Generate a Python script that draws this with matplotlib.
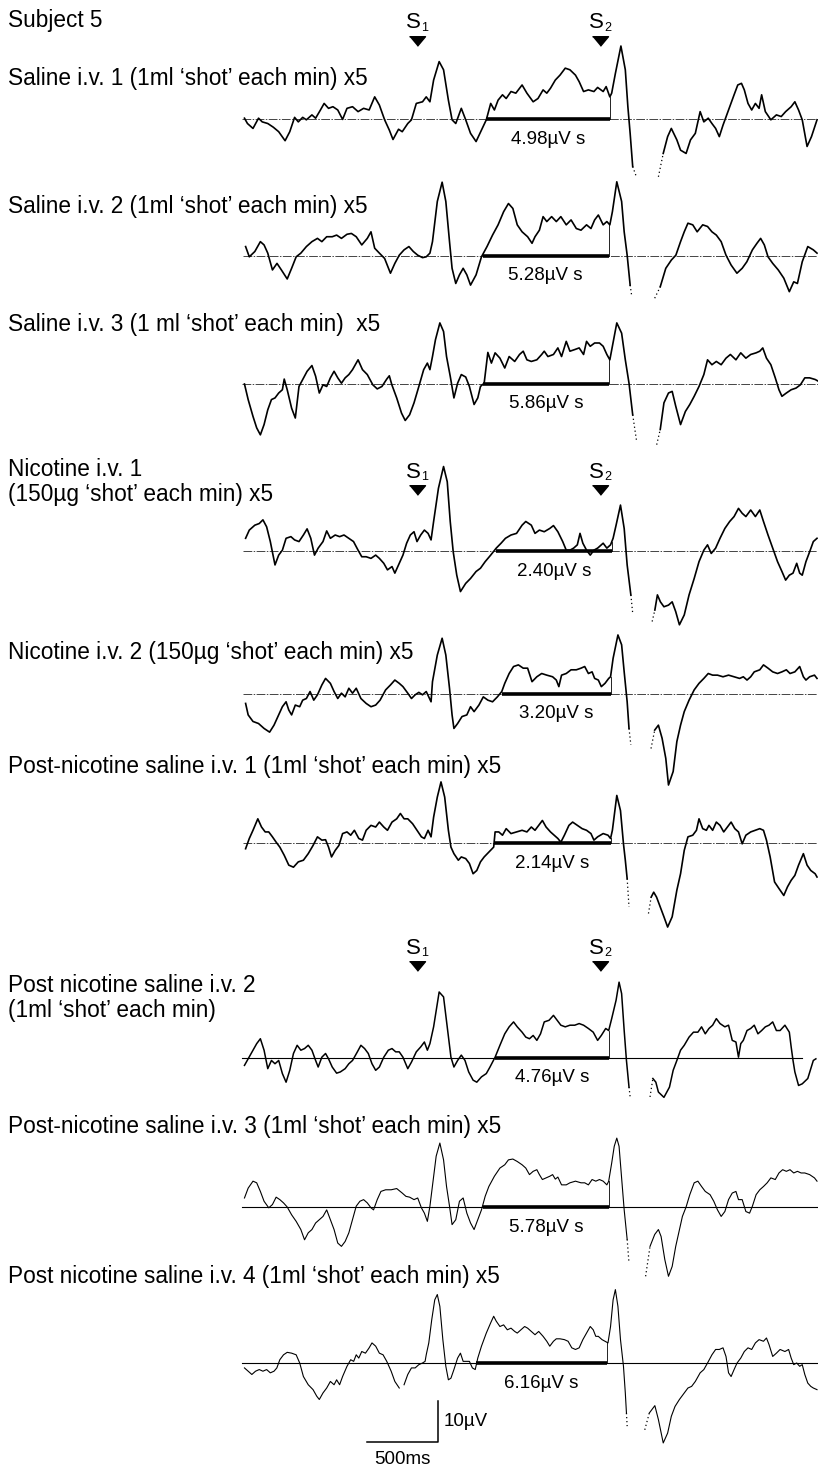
import numpy as np
import matplotlib
matplotlib.use("Agg")
import matplotlib.pyplot as plt
from matplotlib import font_manager

nan = np.nan

# ---------------- data (time in ms from S1, amplitude in uV, up = positive) -------------
T1 = [(-1215,0.2),(-1194,-1.1),(-1155,-2.3),(-1116,0.2),(-1090,-0.7),(-1051,-1.1),(-1012,-2.0),(-974,-3.1),(-929,-5.3),(-896,-3.1),(-862,0.4),(-836,-0.7),(-805,0.4),(-779,-0.2),(-740,1.0),(-714,0.2),(-680,2.2),(-654,3.8),(-623,2.6),(-592,3.0),(-558,2.2),(-524,-0.1),(-493,2.6),(-454,3.0),(-415,1.8),(-376,2.6),(-337,2.2),(-298,5.4),(-265,3.4),(-228,-0.2),(-195,-2.7),(-169,-5.0),(-130,-2.5),(-104,-3.1),(-65,-1.1),(-39,-0.2),(-5,3.8),(39,4.2),(65,5.4),(91,4.2),(117,9.5),(156,14.0),(187,12.0),(221,4.6),(247,-0.2),(273,-1.1),(312,2.6),(343,-0.2),(377,-3.5),(416,-5.5),(454,-2.7),(488,-0.2),(519,3.8),(545,2.2),(571,4.6),(602,5.9),(628,5.0),(662,6.7),(696,6.3),(740,8.3),(774,6.3),(818,4.2),(852,5.0),(888,7.1),(914,6.3),(940,7.5),(974,9.5),(1007,10.7),(1044,12.4),(1077,12.0),(1116,10.7),(1142,9.1),(1173,6.7),(1207,7.1),(1246,6.7),(1272,7.7),(1311,6.7),(1332,7.9),(1358,5.4),(1371,6.3),(1397,11.1),(1436,17.8),(1467,12.0),(1485,3.0),(1501,-3.5),(1519,-11.6),(1545,-14.1),(1620,nan),(1700,-14.1),(1734,-8.4),(1765,-4.3),(1791,-2.3),(1830,-5.1),(1856,-7.6),(1895,-8.4),(1926,-5.1),(1960,-3.5),(1994,1.8),(2020,-0.7),(2051,0.2),(2077,-1.1),(2103,-2.3),(2129,-4.3),(2155,-1.5),(2194,2.2),(2233,5.9),(2259,8.3),(2285,8.7),(2305,7.1),(2331,3.8),(2357,2.2),(2383,3.8),(2409,2.6),(2427,5.9),(2453,1.8),(2492,-0.2),(2531,1.0),(2565,0.6),(2596,1.8),(2635,3.0),(2661,4.2),(2687,2.2),(2713,-0.2),(2747,-6.7),(2778,-4.3),(2817,-0.2)]

T2 = [(-1207,2.3),(-1181,-0.2),(-1142,1.1),(-1103,3.5),(-1077,2.7),(-1051,0.7),(-1018,-3.4),(-986,-1.8),(-955,-3.4),(-914,-5.6),(-883,-3.0),(-851,-0.2),(-818,0.7),(-779,2.3),(-740,3.5),(-701,4.3),(-670,3.5),(-636,4.7),(-597,4.7),(-566,5.1),(-532,4.3),(-493,5.3),(-462,5.5),(-428,4.7),(-389,2.7),(-350,4.3),(-324,5.9),(-298,1.9),(-265,0.7),(-228,-0.6),(-187,-4.2),(-156,-1.8),(-125,0.2),(-91,1.5),(-57,2.3),(-26,1.1),(5,0.2),(39,-0.4),(65,-0.2),(91,0.7),(109,3.5),(143,13.3),(177,18.0),(203,13.3),(229,3.5),(247,-3.0),(273,-6.7),(299,-4.6),(325,-3.0),(351,-4.6),(377,-7.1),(416,-4.6),(454,-0.2),(493,2.3),(532,5.1),(571,7.6),(610,10.8),(644,12.8),(675,11.6),(706,7.6),(740,5.9),(779,4.7),(810,3.1),(831,4.7),(862,6.3),(888,9.6),(914,8.4),(948,9.6),(981,8.4),(1013,9.6),(1051,7.6),(1085,8.8),(1122,6.7),(1155,6.3),(1194,7.6),(1225,6.7),(1251,8.8),(1277,10.0),(1311,7.6),(1337,8.4),(1358,7.6),(1376,10.8),(1407,18.1),(1441,13.3),(1459,5.9),(1480,0.2),(1501,-7.1),(1511,-9.5),(1590,nan),(1674,-10.3),(1713,-7.5),(1752,-3.0),(1791,-1.0),(1823,0.2),(1856,3.5),(1882,5.9),(1908,8.0),(1942,7.6),(1973,5.9),(2012,7.6),(2046,7.2),(2077,5.9),(2108,5.1),(2142,3.5),(2176,0.2),(2212,-2.2),(2253,-4.2),(2290,-3.0),(2323,-1.4),(2362,1.5),(2394,3.1),(2420,4.3),(2446,2.7),(2472,-0.2),(2505,-1.8),(2544,-3.4),(2583,-5.4),(2622,-8.7),(2653,-6.3),(2679,-6.7),(2713,-1.4),(2752,2.3),(2791,1.5),(2817,0.7)]

T3 = [(-1215,0.0),(-1189,-3.8),(-1155,-7.9),(-1129,-10.7),(-1103,-12.4),(-1077,-9.9),(-1051,-6.3),(-1025,-3.8),(-1000,-3.4),(-974,-2.2),(-948,-1.4),(-935,1.2),(-914,-1.4),(-883,-5.9),(-857,-8.3),(-831,-0.6),(-805,1.1),(-774,3.1),(-740,4.5),(-714,1.9),(-688,-2.2),(-662,-0.2),(-636,-0.6),(-610,1.5),(-584,3.1),(-558,1.5),(-532,0.2),(-506,1.5),(-480,2.3),(-454,3.5),(-415,5.9),(-384,3.5),(-350,2.3),(-311,-0.2),(-280,-1.2),(-247,-0.6),(-213,1.2),(-195,2.0),(-177,-0.2),(-143,-3.4),(-109,-7.1),(-83,-8.9),(-52,-7.5),(-21,-4.6),(13,-0.6),(47,3.5),(73,5.1),(91,3.5),(109,6.7),(130,10.8),(161,14.9),(187,12.8),(208,6.7),(234,1.9),(260,-3.4),(286,0.2),(312,2.3),(343,1.7),(369,-0.6),(402,-5.0),(428,-3.4),(447,-0.6),(473,0.2),(499,7.7),(524,5.1),(550,7.6),(584,6.3),(618,3.9),(649,6.7),(688,5.5),(722,7.2),(748,8.0),(774,5.9),(805,5.5),(844,5.9),(878,7.2),(896,8.0),(922,6.7),(961,7.2),(992,8.8),(1018,6.7),(1051,10.4),(1077,8.0),(1111,8.4),(1142,8.8),(1173,7.2),(1194,10.4),(1220,9.2),(1251,10.0),(1285,10.0),(1311,9.2),(1337,7.2),(1358,5.9),(1376,9.2),(1407,14.9),(1441,12.4),(1467,5.9),(1493,0.2),(1519,-7.5),(1545,-13.6),(1615,nan),(1688,-14.8),(1713,-11.1),(1739,-4.6),(1771,-2.2),(1797,-1.8),(1822,-5.4),(1856,-9.9),(1890,-6.7),(1921,-5.0),(1952,-3.0),(1986,-0.6),(2020,2.3),(2046,5.9),(2077,4.7),(2108,5.5),(2142,4.7),(2176,6.3),(2207,7.2),(2246,5.9),(2280,7.6),(2316,6.3),(2350,7.2),(2388,7.6),(2414,8.0),(2435,8.8),(2461,6.3),(2492,4.7),(2523,1.5),(2549,-1.4),(2570,-3.0),(2601,-2.2),(2635,-1.4),(2669,-1.0),(2700,-0.2),(2731,1.5),(2765,1.5),(2804,1.1),(2825,0.7)]

T4 = [(-1207,3.1),(-1181,5.1),(-1142,6.3),(-1111,6.7),(-1085,7.6),(-1059,5.9),(-1033,2.3),(-1000,-3.4),(-974,-1.0),(-948,0.2),(-922,3.1),(-888,3.5),(-862,2.7),(-831,2.3),(-800,3.9),(-774,5.4),(-748,3.1),(-722,-1.0),(-696,0.7),(-662,2.3),(-636,4.9),(-610,3.1),(-576,3.9),(-545,3.5),(-514,3.9),(-480,3.1),(-447,2.3),(-415,0.2),(-389,-1.4),(-358,-1.4),(-324,-1.8),(-291,-1.0),(-265,-1.8),(-234,-3.0),(-208,-4.6),(-176,-3.8),(-156,-5.4),(-130,-3.4),(-99,-1.0),(-73,1.9),(-47,3.9),(-21,4.7),(0,2.3),(26,3.9),(52,5.1),(78,4.3),(99,2.7),(117,7.2),(151,15.3),(187,20.6),(213,16.9),(234,7.2),(255,-0.2),(280,-5.9),(306,-9.9),(343,-7.9),(377,-6.7),(416,-5.0),(447,-4.2),(480,-2.6),(519,-1.0),(558,0.7),(592,1.9),(623,3.1),(662,3.9),(701,4.3),(740,6.3),(766,7.2),(805,6.3),(831,4.3),(862,5.1),(896,4.7),(935,5.5),(961,6.2),(992,4.7),(1026,2.3),(1051,0.2),(1077,0.2),(1103,0.7),(1129,1.5),(1148,4.3),(1168,1.9),(1194,0.2),(1220,-1.0),(1246,0.2),(1272,0.7),(1311,1.9),(1337,0.7),(1363,1.5),(1381,3.1),(1402,6.3),(1433,11.2),(1459,5.5),(1480,-3.4),(1506,-10.7),(1519,-15.2),(1590,nan),(1656,-17.2),(1675,-14.4),(1693,-10.7),(1714,-12.4),(1739,-13.6),(1771,-13.2),(1797,-12.4),(1822,-14.8),(1848,-18.0),(1882,-15.6),(1916,-10.7),(1952,-6.7),(1986,-2.6),(2020,0.2),(2046,1.5),(2072,-0.6),(2103,0.7),(2134,3.1),(2168,5.5),(2202,7.2),(2233,8.4),(2264,10.4),(2290,9.2),(2316,8.4),(2350,10.0),(2383,8.4),(2414,10.0),(2440,7.2),(2472,3.9),(2505,0.7),(2539,-2.6),(2570,-5.0),(2596,-7.1),(2622,-5.9),(2648,-5.4),(2674,-3.0),(2695,-5.4),(2713,-5.9),(2739,-2.6),(2765,-0.2),(2791,2.3),(2817,3.1)]

T5 = [(-1207,-2.3),(-1189,-5.1),(-1155,-6.7),(-1116,-7.2),(-1077,-8.4),(-1038,-9.3),(-1007,-7.6),(-974,-5.1),(-948,-3.1),(-922,-1.9),(-903,-3.9),(-883,-5.1),(-857,-2.7),(-826,-3.1),(-805,-1.5),(-779,-1.1),(-753,0.6),(-727,-1.5),(-701,-0.2),(-670,2.2),(-644,3.8),(-610,2.6),(-584,0.6),(-558,-1.1),(-532,0.2),(-506,-0.7),(-480,1.4),(-454,0.2),(-428,1.4),(-395,-1.1),(-358,-2.3),(-324,-3.1),(-291,-2.7),(-260,-1.5),(-221,1.0),(-187,2.2),(-156,3.4),(-125,2.6),(-99,1.8),(-65,0.2),(-39,-1.1),(-13,-0.2),(13,0.4),(39,-0.2),(65,0.6),(83,-0.7),(99,-1.9),(109,3.0),(143,9.5),(177,13.6),(203,9.5),(229,1.4),(247,-5.1),(260,-8.4),(286,-7.2),(317,-5.5),(351,-5.1),(377,-3.1),(402,-4.3),(436,-2.7),(467,-0.7),(499,-1.5),(532,-1.9),(566,-0.7),(597,0.6),(618,2.6),(649,5.0),(680,6.7),(714,7.1),(748,6.3),(779,6.3),(810,3.0),(844,4.2),(878,5.0),(914,4.6),(955,4.2),(981,3.4),(999,1.8),(1018,4.6),(1051,5.0),(1085,5.9),(1122,5.9),(1155,6.3),(1181,6.7),(1207,5.0),(1233,5.4),(1251,3.8),(1277,3.4),(1298,1.8),(1324,2.6),(1350,3.8),(1363,4.2),(1381,8.7),(1415,14.4),(1441,12.0),(1459,5.4),(1480,-1.9),(1493,-8.4),(1506,-12.4),(1580,nan),(1648,-13.3),(1674,-8.8),(1700,-7.6),(1726,-10.8),(1752,-15.7),(1771,-22.2),(1804,-18.9),(1830,-11.6),(1856,-7.6),(1882,-4.3),(1916,-1.5),(1952,1.0),(1986,2.6),(2020,3.8),(2051,5.0),(2082,4.6),(2116,4.6),(2155,4.2),(2194,4.6),(2233,4.2),(2272,3.8),(2298,4.2),(2324,3.4),(2350,4.2),(2375,5.4),(2414,5.9),(2440,7.1),(2472,6.3),(2505,5.4),(2539,5.0),(2570,5.4),(2601,5.9),(2627,5.0),(2661,5.4),(2695,6.7),(2721,4.2),(2739,3.4),(2765,4.2),(2799,4.6),(2817,3.8)]

T6 = [(-1207,-1.4),(-1181,1.1),(-1155,3.1),(-1121,5.9),(-1095,3.9),(-1069,2.7),(-1044,2.7),(-1018,1.5),(-992,0.2),(-966,-1.0),(-935,-3.0),(-903,-5.4),(-870,-5.9),(-836,-4.6),(-800,-4.2),(-766,-2.6),(-732,-0.6),(-701,1.5),(-670,0.7),(-644,0.8),(-623,-1.0),(-602,-3.4),(-576,-1.8),(-550,-0.6),(-524,2.3),(-493,2.7),(-467,1.9),(-441,3.1),(-410,1.1),(-384,0.7),(-358,3.1),(-324,4.3),(-291,3.9),(-265,5.1),(-234,3.9),(-208,3.1),(-176,5.1),(-143,5.9),(-117,7.2),(-91,5.9),(-65,5.9),(-31,4.7),(0,3.1),(31,1.5),(52,1.1),(78,3.1),(99,1.5),(117,6.3),(143,11.2),(169,14.9),(195,11.2),(221,3.1),(239,-1.0),(260,-2.6),(291,-4.2),(312,-3.4),(343,-3.8),(369,-5.0),(395,-7.5),(421,-6.7),(447,-4.6),(473,-3.4),(506,-2.2),(540,-1.0),(550,2.7),(576,2.7),(602,1.9),(628,3.5),(662,2.3),(701,2.7),(740,3.1),(774,2.7),(805,3.9),(831,3.1),(857,4.3),(883,5.5),(909,3.9),(940,2.7),(966,1.9),(992,1.1),(1013,0.2),(1038,1.9),(1070,4.3),(1096,5.1),(1129,4.3),(1163,3.5),(1194,3.1),(1225,2.3),(1246,0.7),(1272,1.5),(1311,2.3),(1345,1.9),(1363,1.1),(1376,3.1),(1407,11.6),(1433,7.9),(1454,-0.2),(1467,-4.2),(1480,-8.7),(1493,-15.6),(1560,nan),(1630,-17.2),(1649,-13.2),(1667,-12.0),(1687,-13.2),(1713,-15.6),(1739,-18.0),(1765,-20.5),(1797,-18.0),(1830,-11.5),(1856,-7.5),(1882,-1.8),(1908,1.5),(1942,1.9),(1968,3.1),(1986,5.9),(2012,3.5),(2038,3.1),(2056,4.3),(2082,3.1),(2108,5.1),(2134,4.3),(2160,2.7),(2186,3.9),(2212,5.1),(2238,3.5),(2264,2.7),(2290,-0.2),(2316,1.9),(2350,2.7),(2383,3.1),(2414,3.5),(2440,3.1),(2461,0.7),(2487,-3.4),(2518,-9.5),(2549,-11.1),(2583,-12.8),(2609,-10.7),(2635,-9.1),(2661,-7.9),(2687,-5.4),(2721,-2.6),(2747,-5.4),(2773,-6.7),(2804,-7.5),(2817,-8.3)]

T7 = [(-1215,-1.8),(-1189,-0.2),(-1155,1.9),(-1129,3.5),(-1103,4.7),(-1077,1.9),(-1051,-2.6),(-1025,-0.6),(-1000,-1.4),(-974,-0.6),(-948,-3.8),(-922,-5.9),(-896,-3.0),(-870,1.1),(-844,3.1),(-818,1.9),(-792,2.3),(-766,3.1),(-740,1.9),(-714,-0.6),(-696,-2.2),(-670,0.2),(-644,1.1),(-623,-0.2),(-597,-2.2),(-566,-3.7),(-540,-3.4),(-506,-2.6),(-480,-1.4),(-454,-0.6),(-420,1.5),(-395,3.1),(-369,2.3),(-343,1.1),(-317,-1.4),(-291,-3.0),(-265,-2.2),(-234,0.2),(-202,1.9),(-176,2.3),(-150,1.5),(-125,1.5),(-99,0.2),(-65,-2.6),(-39,-1.0),(-5,1.5),(26,2.7),(52,3.9),(73,1.9),(91,3.5),(117,7.6),(156,16.1),(187,14.9),(213,7.6),(239,0.2),(260,-2.2),(286,-0.6),(312,0.7),(338,-0.6),(364,-3.4),(395,-5.4),(421,-5.9),(454,-4.6),(488,-3.8),(514,-2.2),(550,0.2),(584,3.1),(618,5.9),(649,7.6),(680,8.8),(706,7.6),(740,6.3),(766,5.1),(792,4.7),(818,5.5),(844,4.3),(870,5.9),(896,8.8),(930,9.2),(961,10.4),(987,9.2),(1013,8.0),(1044,7.6),(1077,8.0),(1111,8.0),(1142,8.4),(1173,8.0),(1207,7.2),(1241,6.3),(1272,4.3),(1298,5.5),(1329,7.2),(1350,6.7),(1371,9.6),(1402,14.1),(1423,18.5),(1441,15.7),(1459,6.7),(1475,-0.6),(1493,-7.1),(1501,-9.5),(1570,nan),(1641,-9.5),(1661,-5.0),(1682,-5.9),(1700,-8.3),(1739,-9.6),(1778,-7.1),(1804,-3.0),(1830,-0.6),(1856,1.9),(1882,3.1),(1916,5.1),(1947,6.3),(1978,6.3),(2004,7.6),(2030,5.9),(2056,7.2),(2082,8.0),(2108,9.6),(2134,8.4),(2168,7.6),(2194,8.0),(2220,4.3),(2246,3.9),(2264,0.2),(2280,3.5),(2298,4.3),(2324,6.7),(2350,7.2),(2375,8.0),(2401,5.9),(2427,6.7),(2453,7.6),(2479,8.0),(2505,8.8),(2531,6.7),(2557,6.7),(2591,8.0),(2622,6.3),(2635,2.7),(2648,-0.6),(2661,-3.4),(2687,-6.7),(2713,-6.3),(2752,-5.0),(2791,-0.6),(2809,-0.2)]

T8 = [(-1215,2.2),(-1189,4.6),(-1155,6.3),(-1129,5.9),(-1103,3.8),(-1077,1.4),(-1044,-0.2),(-1018,0.6),(-992,2.4),(-966,1.8),(-940,1.0),(-914,0.0),(-883,-1.9),(-851,-3.5),(-818,-5.5),(-792,-8.0),(-766,-6.3),(-740,-5.5),(-714,-3.9),(-688,-3.1),(-662,-2.3),(-636,-0.7),(-610,-3.1),(-584,-5.5),(-558,-8.8),(-532,-9.6),(-506,-8.4),(-480,-6.3),(-454,-3.1),(-428,0.2),(-402,1.4),(-376,1.8),(-350,1.0),(-324,-0.2),(-306,-0.7),(-280,1.8),(-254,3.8),(-221,4.2),(-182,4.2),(-143,4.5),(-104,3.4),(-78,2.6),(-52,2.4),(-21,1.8),(5,2.2),(31,-0.2),(52,-1.5),(73,-3.5),(91,0.2),(117,7.5),(135,12.4),(161,15.6),(187,11.5),(208,5.0),(229,0.2),(247,-4.3),(273,-3.1),(299,1.4),(325,2.2),(351,-1.5),(377,-3.9),(402,-5.5),(428,-3.1),(454,-0.7),(480,2.6),(506,5.0),(545,7.5),(584,9.5),(618,10.3),(644,11.5),(675,11.7),(706,11.1),(740,10.3),(766,9.5),(792,7.9),(818,8.7),(844,9.1),(862,7.9),(883,6.7),(909,7.1),(935,7.5),(955,7.9),(974,6.8),(992,7.3),(1018,5.4),(1051,5.4),(1077,5.9),(1116,6.3),(1155,5.9),(1181,5.9),(1207,5.4),(1233,6.7),(1259,6.3),(1285,6.7),(1311,6.3),(1337,5.4),(1350,6.3),(1371,10.7),(1389,14.8),(1407,16.8),(1423,14.8),(1441,7.0),(1459,-0.7),(1480,-7.9),(1493,-13.7),(1550,nan),(1610,-16.9),(1641,-9.6),(1674,-6.7),(1700,-5.5),(1719,-7.2),(1745,-12.8),(1771,-16.9),(1797,-14.5),(1822,-9.6),(1848,-5.5),(1869,-2.3),(1895,0.0),(1921,3.0),(1952,5.9),(1978,6.3),(2004,5.0),(2030,3.8),(2064,3.0),(2090,1.4),(2116,-0.7),(2142,-2.3),(2168,-1.1),(2194,1.8),(2220,3.4),(2246,3.8),(2264,1.8),(2290,1.8),(2316,-1.1),(2342,-1.5),(2362,0.2),(2388,3.0),(2414,4.2),(2440,5.0),(2466,5.9),(2492,7.1),(2523,6.7),(2549,8.3),(2575,9.1),(2601,8.7),(2627,9.1),(2653,8.3),(2679,8.7),(2705,8.3),(2731,8.3),(2765,7.9),(2799,7.1),(2817,6.3)]

T9 = [(-1215,-1.2),(-1189,-2.0),(-1163,-2.8),(-1137,-2.0),(-1111,-1.6),(-1085,-2.0),(-1059,-1.6),(-1033,-2.4),(-1007,-2.0),(-987,-1.2),(-966,0.8),(-940,2.0),(-914,2.6),(-883,2.4),(-851,2.0),(-826,0.0),(-800,-3.3),(-766,-5.3),(-732,-6.5),(-706,-8.1),(-688,-8.9),(-662,-7.3),(-636,-6.1),(-610,-4.5),(-584,-5.3),(-566,-4.1),(-545,-5.3),(-524,-3.3),(-493,-0.8),(-467,0.8),(-446,0.4),(-428,2.0),(-410,1.2),(-389,2.8),(-363,2.4),(-337,3.7),(-317,4.9),(-291,4.1),(-265,2.4),(-239,2.0),(-213,0.4),(-182,-2.0),(-156,-4.5),(-125,-6.1),(-108,nan),(-91,-5.3),(-65,-2.8),(-39,-1.2),(-13,-1.2),(13,-0.4),(39,0.0),(57,0.4),(65,2.0),(83,4.9),(104,10.6),(125,15.4),(143,16.7),(161,13.8),(182,5.7),(203,-0.8),(221,-4.1),(239,-3.7),(260,-1.6),(286,1.2),(306,2.4),(325,0.4),(343,0.4),(369,0.4),(390,-1.2),(410,-1.6),(428,1.2),(454,4.1),(488,7.3),(519,9.8),(540,11.4),(558,10.2),(584,8.9),(610,9.3),(636,8.1),(662,8.5),(688,7.7),(706,7.3),(732,8.1),(758,8.9),(779,8.5),(805,7.7),(831,6.9),(857,7.7),(888,6.5),(914,5.3),(935,4.1),(961,5.3),(981,5.9),(1007,5.9),(1038,5.7),(1064,5.3),(1090,3.7),(1116,3.3),(1142,3.7),(1168,5.7),(1194,7.3),(1220,8.9),(1241,8.1),(1259,6.5),(1277,6.5),(1303,5.7),(1324,5.3),(1345,4.9),(1363,8.9),(1381,15.4),(1397,17.9),(1415,13.8),(1433,5.7),(1454,-0.8),(1467,-7.3),(1475,-12.2),(1480,-15.4),(1540,nan),(1604,-16.3),(1636,-12.2),(1675,-10.4),(1700,-13.8),(1734,-19.5),(1765,-17.1),(1791,-13.0),(1817,-10.6),(1848,-8.9),(1882,-7.3),(1908,-6.1),(1934,-5.7),(1960,-4.5),(1994,-2.4),(2020,-1.6),(2046,0.0),(2077,2.0),(2103,3.3),(2129,3.3),(2155,3.7),(2176,1.6),(2194,-2.4),(2212,-3.3),(2233,-1.6),(2254,0.0),(2280,1.2),(2305,2.8),(2331,3.7),(2357,3.3),(2383,4.9),(2409,5.7),(2440,5.3),(2461,6.1),(2479,4.5),(2505,1.6),(2531,2.4),(2557,3.3),(2591,2.8),(2617,3.3),(2635,1.2),(2653,-0.4),(2674,0.0),(2695,-0.8),(2713,-0.4),(2731,-2.8),(2752,-4.9),(2773,-5.7),(2791,-6.1),(2817,-6.5)]

traces = [T1, T2, T3, T4, T5, T6, T7, T8, T9]

labels = [
    ["Saline i.v. 1 (1ml \u2018shot\u2019 each min) x5"],
    ["Saline i.v. 2 (1ml \u2018shot\u2019 each min) x5"],
    ["Saline i.v. 3 (1 ml \u2018shot\u2019 each min)  x5"],
    ["Nicotine i.v. 1", "(150\u00b5g \u2018shot\u2019 each min) x5"],
    ["Nicotine i.v. 2 (150\u00b5g \u2018shot\u2019 each min) x5"],
    ["Post-nicotine saline i.v. 1 (1ml \u2018shot\u2019 each min) x5"],
    ["Post nicotine saline i.v. 2", "(1ml \u2018shot\u2019 each min)"],
    ["Post-nicotine saline i.v. 3 (1ml \u2018shot\u2019 each min) x5"],
    ["Post nicotine saline i.v. 4 (1ml \u2018shot\u2019 each min) x5"],
]
areas = ["4.98", "5.28", "5.86", "2.40", "3.20", "2.14", "4.76", "5.78", "6.16"]
bar_start = [488, 462, 467, 558, 597, 545, 550, 467, 415]     # ms
bar_end = [1358, 1350, 1350, 1371, 1363, 1363, 1350, 1350, 1337]  # ms
fast_pen = [(1519, 1734), (1501, 1713), (1519, 1713), (1506, 1675), (1493, 1674),
            (1480, 1649), (1493, 1661), (1480, 1641), (1475, 1636)]  # faint/dotted span
s_times = [0, 1290]
scale_ms, scale_uv = 500, 10

# ---------------- layout (pixels of the 818 x 1470 canvas) ----------------
W, H = 818, 1470
X_S1 = 417.0
PX_PER_MS = 0.142
PX_PER_UV = 4.1
base_px = [119, 256, 384, 551, 694, 843, 1058, 1207, 1363]
base_end_px = [818, 818, 818, 818, 818, 818, 802, 818, 818]
label_px = [[78], [207], [325], [469, 495], [653], [766], [985, 1011], [1127], [1277]]
s_groups_px = [(23, 41), (472, 490), (948, 966)]   # (text y, triangle y)
trace_lw = [1.2, 1.2, 1.2, 1.2, 1.2, 1.2, 1.1, 0.8, 0.8]
dashed_base = [True, True, True, True, True, True, False, False, False]


def pick_font(names):
    for n in names:
        try:
            font_manager.findfont(font_manager.FontProperties(family=n), fallback_to_default=False)
            return n
        except Exception:
            pass
    return "DejaVu Sans"


FONT = pick_font(["Liberation Sans", "Arial", "Roboto"])
plt.rcParams["font.family"] = [FONT, "DejaVu Sans"]


def tx(px):
    return (px - X_S1) / PX_PER_MS


def ty(py):
    return -py / PX_PER_UV


fig = plt.figure(figsize=(W / 100, H / 100), dpi=100)
ax = fig.add_axes([0, 0, 1, 1])
ax.set_xlim(tx(0), tx(W))
ax.set_ylim(ty(H), ty(0))
ax.axis("off")

LABEL_FS = 16.3
AREA_FS = 13.5

ax.text(tx(8), ty(21), "Subject 5", fontsize=LABEL_FS, ha="left", va="center")

tri = [(-1.0, 0.6), (1.0, 0.6), (0.0, -0.6)]
for ys, yt in s_groups_px:
    for k, st in enumerate(s_times):
        ax.plot([st], [ty(yt)], marker=tri, markersize=11.5, color="black", linestyle="none")
        ax.text(st - 4.0 / PX_PER_MS, ty(ys), "S", fontsize=16, ha="center", va="center")
        ax.text(st + 7.5 / PX_PER_MS, ty(ys + 5), str(k + 1), fontsize=9, ha="center", va="center")

for i, tr in enumerate(traces):
    arr = np.array(tr, dtype=float)
    t, v = arr[:, 0], arr[:, 1]
    yb = ty(base_px[i])
    # baseline
    if dashed_base[i]:
        ax.plot([t[0] - 20, tx(base_end_px[i])], [yb, yb], color="#444444", lw=0.7,
                dashes=(9, 1.5, 1.5, 1.5))
    else:
        ax.plot([t[0] - 20, tx(base_end_px[i])], [yb, yb], color="black", lw=0.8)
    d0, d1 = fast_pen[i]
    solid = np.where((t <= d0) | (t >= d1), v, np.nan)
    dots = np.where((t >= d0) & (t <= d1), v, np.nan)
    ax.plot(t, yb + solid, color="black", lw=trace_lw[i], solid_joinstyle="round")
    ax.plot(t, yb + dots, color="black", lw=0.9, linestyle=(0, (1, 2.2)))
    # integrated area bar
    ax.plot([bar_start[i], bar_end[i]], [yb, yb], color="black", lw=2.6, solid_capstyle="butt")
    v_end = np.interp(bar_end[i], t[~np.isnan(v)], v[~np.isnan(v)])
    ax.plot([bar_end[i], bar_end[i]], [yb, yb + v_end], color="black", lw=0.6)
    ax.text((bar_start[i] + bar_end[i]) / 2, yb - 20 / PX_PER_UV, areas[i] + "\u00b5V s",
            fontsize=AREA_FS, ha="center", va="center")
    for line, ly in zip(labels[i], label_px[i]):
        ax.text(tx(8), ty(ly), line, fontsize=LABEL_FS, ha="left", va="center")

# scale bar
cx, cy = tx(438), ty(1442)
ax.plot([cx - scale_ms, cx, cx], [cy, cy, cy + scale_uv], color="black", lw=1.1)
ax.text(cx + 6 / PX_PER_MS, cy + scale_uv / 2, "10\u00b5V", fontsize=AREA_FS, ha="left", va="center")
ax.text(cx - scale_ms / 2, cy - 18 / PX_PER_UV, "500ms", fontsize=AREA_FS, ha="center", va="center")

fig.savefig("out.png", dpi=100, facecolor="white")
